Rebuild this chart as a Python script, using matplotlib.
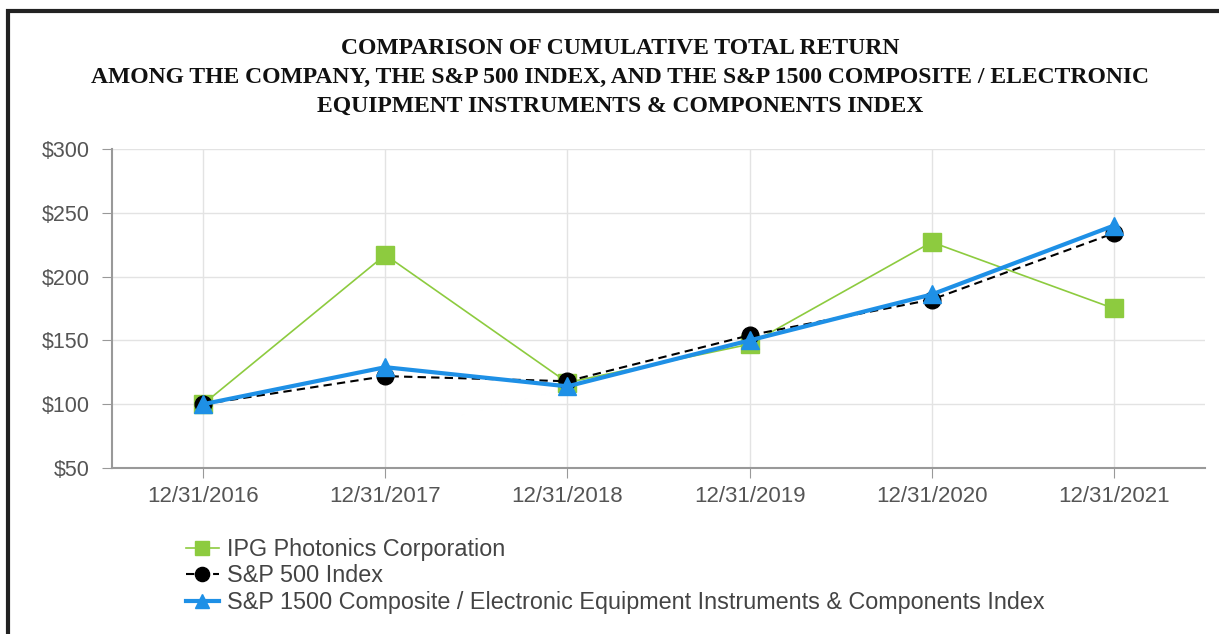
import matplotlib
matplotlib.use("Agg")
import matplotlib.pyplot as plt
from matplotlib.patches import Rectangle

dates = ["12/31/2016", "12/31/2017", "12/31/2018", "12/31/2019", "12/31/2020", "12/31/2021"]
ipg = [100, 217, 117, 147, 227, 175]
sp500 = [100, 122, 118, 154, 182, 234]
sp1500_eeic = [100, 129, 114, 150, 186, 240]
yticks = [50, 100, 150, 200, 250, 300]
ytick_labels = ["$50", "$100", "$150", "$200", "$250", "$300"]
labels = ["IPG Photonics Corporation", "S&P 500 Index",
          "S&P 1500 Composite / Electronic Equipment Instruments & Components Index"]
title = ("COMPARISON OF CUMULATIVE TOTAL RETURN\n"
         "AMONG THE COMPANY, THE S&P 500 INDEX, AND THE S&P 1500 COMPOSITE / ELECTRONIC\n"
         "EQUIPMENT INSTRUMENTS & COMPONENTS INDEX")

W, H = 1219, 634
fig = plt.figure(figsize=(W / 100, H / 100), dpi=100)
fig.patch.set_facecolor("white")

# frame
fig.add_artist(Rectangle((8 / W, -0.05), (W + 20) / W, (H - 11) / H + 0.05,
                         transform=fig.transFigure, fill=False, edgecolor="#222222",
                         linewidth=3))

ax = fig.add_axes([112 / W, 1 - 468 / H, (1205 - 112) / W, (468 - 149) / H])
x = list(range(len(dates)))

green = "#8DCB3F"
blue = "#1E90E6"

ax.plot(x, ipg, color=green, linewidth=1.2, marker="s", markersize=12.5,
        markerfacecolor=green, markeredgecolor=green, label=labels[0], zorder=3)
ax.plot(x, sp500, color="black", linewidth=1.5, linestyle=(0, (4, 2.5)), marker="o",
        markersize=12, markerfacecolor="black", markeredgecolor="black", label=labels[1], zorder=4)
ax.plot(x, sp1500_eeic, color=blue, linewidth=3, marker="^", markersize=12.5,
        markerfacecolor=blue, markeredgecolor=blue, label=labels[2], zorder=5)

ax.set_xlim(-0.5, len(dates) - 0.5)
ax.set_ylim(50, 300)
ax.set_xticks(x)
ax.set_xticklabels(dates)
ax.set_yticks(yticks)
ax.set_yticklabels(ytick_labels)
ax.grid(True, color="#e3e3e3", linewidth=1)
ax.set_axisbelow(True)
for s in ["top", "right"]:
    ax.spines[s].set_visible(False)
for s in ["left", "bottom"]:
    ax.spines[s].set_color("#999999")
    ax.spines[s].set_linewidth(1.5)
ax.tick_params(axis="both", colors="#999999", labelcolor="#555555", length=7,
               labelsize=16)
ax.tick_params(axis="x", pad=6)
ax.tick_params(axis="y", pad=9, labelsize=15.5)
for t in ax.get_xticklabels() + ax.get_yticklabels():
    t.set_fontfamily("Liberation Sans")

fig.text(620 / W, 1 - 77 / H, title, ha="center", va="center", fontsize=17,
         fontweight="bold", family="Liberation Serif", linespacing=1.5, color="#111111")

leg = fig.legend(loc="upper left", bbox_to_anchor=(186 / W, 1 - 538 / H), frameon=False,
                 prop={"family": "Liberation Sans", "size": 16.8}, handlelength=1.4,
                 handletextpad=0.35, labelspacing=0.15, borderpad=0, borderaxespad=0,
                 markerscale=0.85)
for t in leg.get_texts():
    t.set_color("#444444")

fig.savefig("out.png", dpi=100)
